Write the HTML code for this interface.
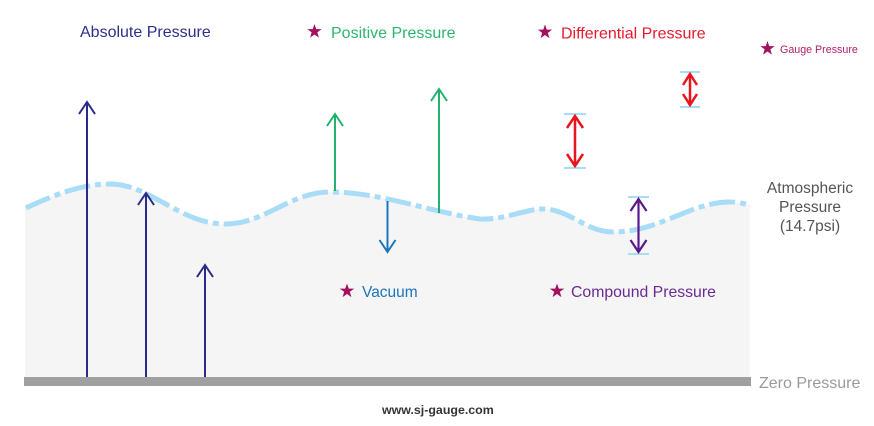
<!DOCTYPE html>
<html><head><meta charset="utf-8"><style>
html,body{margin:0;padding:0;background:#fff;width:874px;height:426px;overflow:hidden}
svg{display:block}
text{font-family:"Liberation Sans",sans-serif}
</style></head><body>
<svg width="874" height="426" viewBox="0 0 874 426" xmlns="http://www.w3.org/2000/svg">
<defs>
<polygon id="star" points="0,-7.5 1.76,-2.43 7.13,-2.32 2.85,0.93 4.41,6.07 0,3 -4.41,6.07 -2.85,0.93 -7.13,-2.32 -1.76,-2.43" fill="#a3105f"/>
</defs>
<!-- fill -->
<path d="M25,208 C60,192 85,184 110,184 C150,184 180,224 225,224 C265,224 290,192 330,192 C380,192 430,212 480,219 C505,220 525,209 543,209 C570,209 585,232 613,232 C660,232 690,202 730,202 C740,202 745,204 750,205 L750,377 L25,377 Z" fill="#f5f5f6"/>
<!-- zero bar -->
<rect x="24" y="377" width="727" height="9" fill="#a0a0a0"/>
<!-- wave -->
<path d="M26,208 C60,192 85,184 110,184 C150,184 180,224 225,224 C265,224 290,192 330,192 C380,192 430,212 480,219 C505,220 525,209 543,209 C570,209 585,232 613,232 C660,232 690,202 730,202 C740,202 745,204 748,205" fill="none" stroke="#a8dcf7" stroke-width="5" stroke-dasharray="26 5 6 5"/>

<!-- absolute arrows -->
<g stroke="#2a2a8a" stroke-width="2" fill="none">
<line x1="87" y1="377" x2="87" y2="102"/><polyline points="79,114 87,102 95,114"/>
<line x1="146" y1="377" x2="146" y2="193"/><polyline points="138,205 146,193 154,205"/>
<line x1="205" y1="377" x2="205" y2="265"/><polyline points="197,277 205,265 213,277"/>
</g>
<!-- positive arrows -->
<g stroke="#22b26e" stroke-width="2" fill="none">
<line x1="335" y1="191" x2="335" y2="114"/><polyline points="327,126 335,114 343,126"/>
<line x1="439" y1="213" x2="439" y2="89"/><polyline points="431,101 439,89 447,101"/>
</g>
<!-- vacuum -->
<g stroke="#1a75bb" stroke-width="2" fill="none">
<line x1="387.5" y1="201" x2="387.5" y2="252"/><polyline points="379.5,240 387.5,252 395.5,240"/>
</g>
<!-- differential bars -->
<g stroke="#a8dcf7" stroke-width="2">
<line x1="564" y1="114" x2="586" y2="114"/><line x1="564" y1="168" x2="586" y2="168"/>
<line x1="680" y1="72" x2="700" y2="72"/><line x1="680" y1="107" x2="700" y2="107"/>
<line x1="628" y1="197" x2="649" y2="197"/><line x1="628" y1="254" x2="649" y2="254"/>
</g>
<g stroke="#e8141e" stroke-width="2.5" fill="none">
<line x1="575" y1="116" x2="575" y2="166"/><polyline points="567,128 575,116 583,128"/><polyline points="567,154 575,166 583,154"/>
<line x1="690" y1="74" x2="690" y2="105"/><polyline points="683,85 690,74 697,85"/><polyline points="683,94 690,105 697,94"/>
</g>
<g stroke="#5a1a8c" stroke-width="2.2" fill="none">
<line x1="638.5" y1="199" x2="638.5" y2="252"/><polyline points="630.5,211 638.5,199 646.5,211"/><polyline points="630.5,240 638.5,252 646.5,240"/>
</g>

<!-- labels -->
<text x="80" y="37" font-size="16" fill="#2e2e8c">Absolute Pressure</text>
<use href="#star" x="314.5" y="31.5"/>
<text x="331" y="38" font-size="16" fill="#2db46e">Positive Pressure</text>
<use href="#star" x="545" y="32"/>
<text x="561" y="38.5" font-size="16" fill="#e8192c">Differential Pressure</text>
<use href="#star" x="767.5" y="48.5"/>
<text x="780" y="53" font-size="10.7" fill="#b0206a">Gauge Pressure</text>
<g font-size="15.5" fill="#555" text-anchor="middle">
<text x="810" y="193">Atmospheric</text>
<text x="810" y="212">Pressure</text>
<text x="810" y="231">(14.7psi)</text>
</g>
<use href="#star" x="347" y="291"/>
<text x="362" y="297" font-size="15.5" fill="#1a75bb">Vacuum</text>
<use href="#star" x="557" y="291"/>
<text x="571" y="297" font-size="15.8" fill="#6a2a92">Compound Pressure</text>
<text x="759" y="388" font-size="16" fill="#9a9a9a">Zero Pressure</text>
<text x="382" y="414" font-size="12.4" font-weight="bold" fill="#333">www.sj-gauge.com</text>
</svg>
</body></html>
